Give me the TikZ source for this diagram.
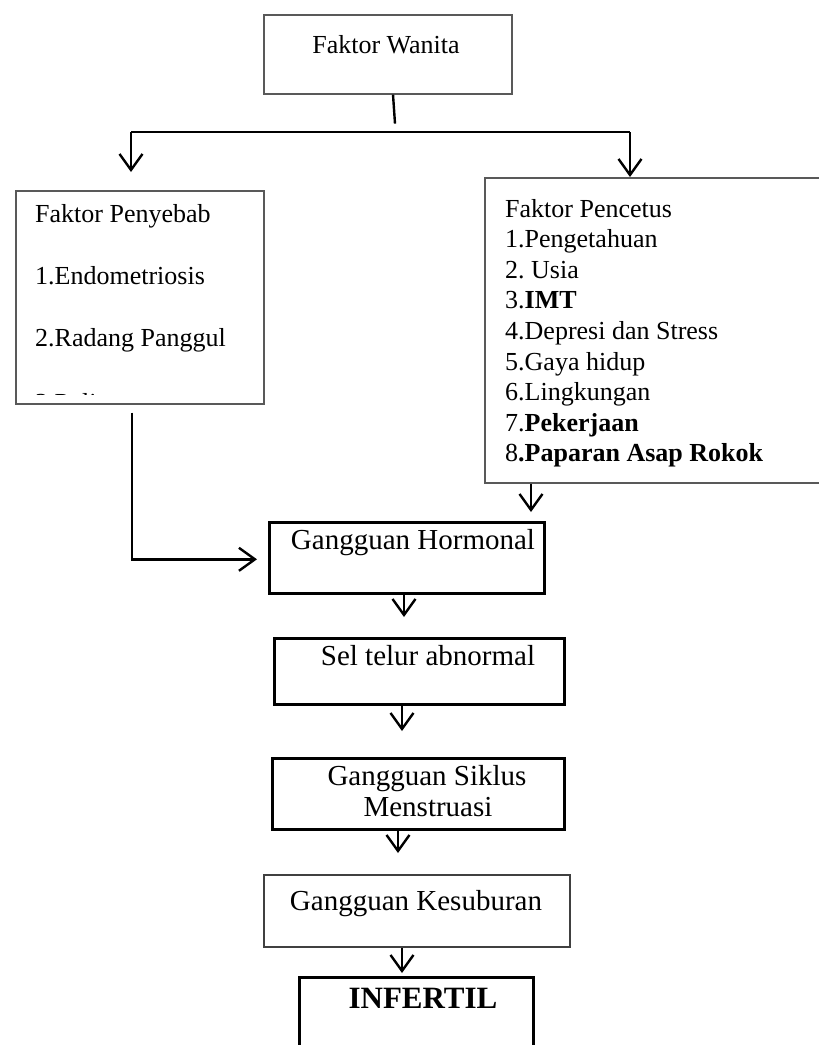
\documentclass[tikz,border=0pt]{standalone}
\usepackage{fontspec}
\setmainfont{Liberation Serif}
\usetikzlibrary{arrows.meta,calc}
\frenchspacing
\begin{document}
\begin{tikzpicture}[x=1pt,y=-1pt,
  thinbox/.style={draw=black!65, line width=1.6pt, inner sep=0pt, anchor=north west},
  thickbox/.style={draw=black, line width=2.6pt, inner sep=0pt, anchor=north west},
  conn/.style={line width=2.4pt},
  arr/.style={conn, -{Straight Barb[length=16pt,width=23pt]}},
  up/.style={font=\fontsize{26}{30}\selectfont, anchor=base west, inner sep=0pt},
  low/.style={font=\fontsize{29}{33}\selectfont, anchor=base, inner sep=0pt},
]
\clip (0,0) rectangle (819,1045);
\fill[white] (0,0) rectangle (819,1045);

% boxes
\node[thinbox, minimum width=248pt, minimum height=79pt] (wanita) at (263,14) {};
\node[thinbox, minimum width=248pt, minimum height=213pt] (penyebab) at (15,190) {};
\node[thinbox, minimum width=346pt, minimum height=305pt] (pencetus) at (484,177) {};
\node[thickbox, minimum width=275pt, minimum height=71pt] (hormonal) at (268,521) {};
\node[thickbox, minimum width=290pt, minimum height=66pt] (sel) at (273,637) {};
\node[thickbox, minimum width=292pt, minimum height=71pt] (siklus) at (271,757) {};
\node[draw=black!75, line width=2pt, inner sep=0pt, anchor=north west, minimum width=306pt, minimum height=72pt] (kesuburan) at (263,874) {};
\node[thickbox, minimum width=234pt, minimum height=100pt] (infertil) at (298,976) {};

% texts
\node[low, font=\fontsize{26}{30}\selectfont] (twanita) at (386,53) {Faktor Wanita};

\begin{scope}
\clip (15,190) rectangle (263,394);
\node[up] (tpy0) at (35,222) {Faktor Penyebab};
\node[up] (tpy1) at (35,284) {1.Endometriosis};
\node[up] (tpy2) at (35,346) {2.Radang Panggul};
\node[up] (tpy3) at (35,411.5) {3.Polip};
\end{scope}

\node[up] (tpc0) at (505,217.0) {Faktor Pencetus};
\node[up] (tpc1) at (505,247.6) {1.Pengetahuan};
\node[up] (tpc2) at (505,278.2) {2. Usia};
\node[up] (tpc3) at (505,308.8) {3.\textbf{IMT}};
\node[up] (tpc4) at (505,339.4) {4.Depresi dan Stress};
\node[up] (tpc5) at (505,370.0) {5.Gaya hidup};
\node[up] (tpc6) at (505,400.6) {6.Lingkungan};
\node[up] (tpc7) at (505,431.2) {7.\textbf{Pekerjaan}};
\node[up] (tpc8) at (505,461.8) {8\textbf{.Paparan Asap Rokok}};

\node[low] (thormonal) at (413,549) {Gangguan Hormonal};
\node[low] (tsel) at (428,665) {Sel telur abnormal};
\node[low] (tsiklus1) at (427,785) {Gangguan Siklus};
\node[low] (tsiklus2) at (428,816) {Menstruasi};
\node[low] (tkesuburan) at (416,910) {Gangguan Kesuburan};
\node[low, font=\fontsize{31}{35}\selectfont\bfseries] (tinfertil) at (423,1008) {INFERTIL};

% connectors
\coordinate (stubtop) at ([xshift=130pt]wanita.south west);
\coordinate (stubend) at ([xshift=132pt,yshift=-29pt]wanita.south west);
\coordinate (splitL) at ([xshift=116pt,yshift=58pt]penyebab.north west);
\coordinate (splitR) at ([xshift=146pt,yshift=45pt]pencetus.north west);
\draw[conn] (stubtop) -- (stubend);
\draw[conn] (splitL) -- (splitR);
\draw[arr, shorten >=18pt] (splitL) -- ([xshift=116pt]penyebab.north west);
\draw[arr] (splitR) -- ([xshift=146pt]pencetus.north west);

\coordinate (lstart) at ([xshift=117pt,yshift=-8pt]penyebab.south west);
\draw[arr, shorten >=11pt] (lstart) |- ([yshift=-1.5pt]hormonal.west);
\draw[arr, shorten >=9pt] ([xshift=47pt]pencetus.south west) -- ([xshift=263pt]hormonal.north west);
\draw[arr, shorten >=20pt] ([xshift=136pt]hormonal.south west) -- ([xshift=131pt]sel.north west);
\draw[arr, shorten >=26pt] ([xshift=129pt]sel.south west) -- ([xshift=131pt]siklus.north west);
\draw[arr, shorten >=21pt] ([xshift=127pt]siklus.south west) -- ([xshift=135pt]kesuburan.north west);
\draw[arr, shorten >=3pt] ([xshift=139pt]kesuburan.south west) -- ([xshift=104pt]infertil.north west);
\end{tikzpicture}
\end{document}
